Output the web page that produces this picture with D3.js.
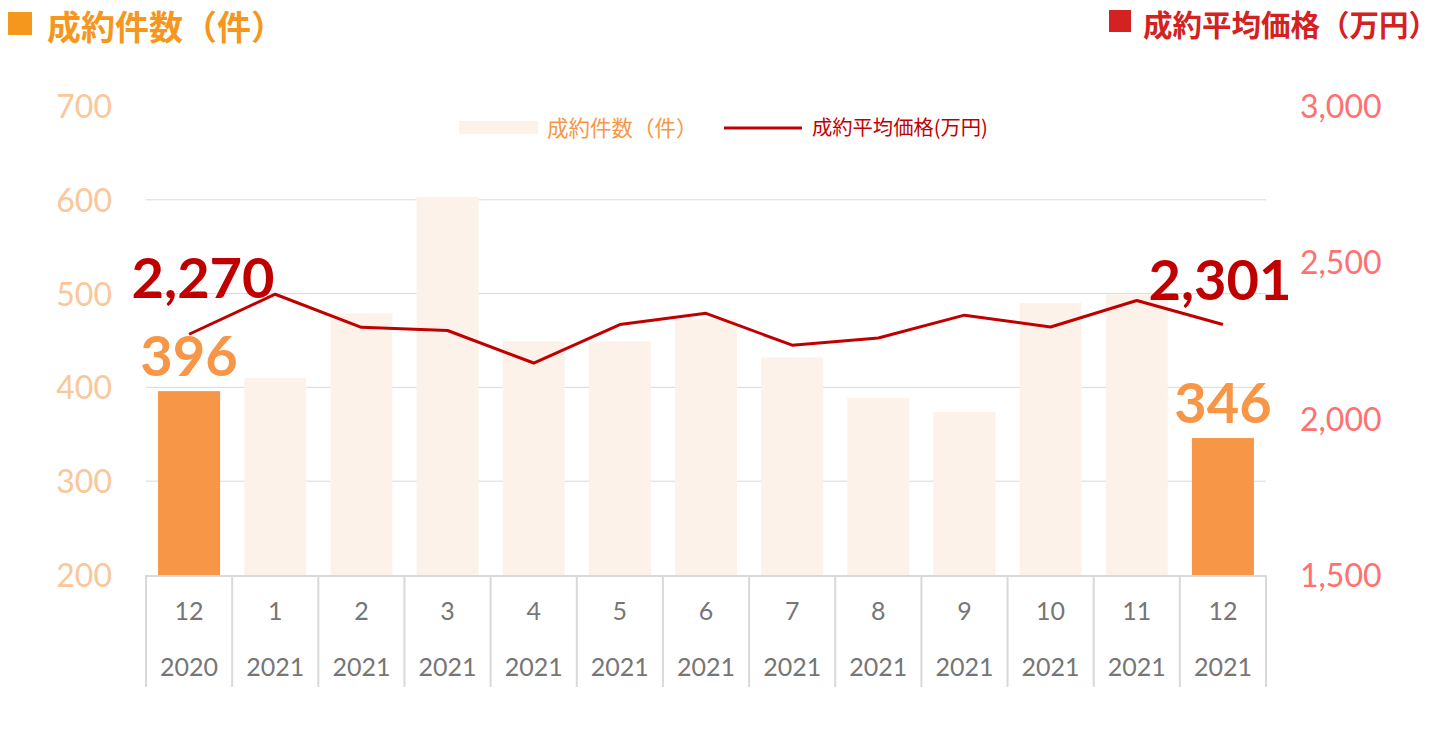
<!DOCTYPE html>
<html>
<head>
<meta charset="utf-8">
<script src="https://cdn.jsdelivr.net/npm/d3@7"></script>
<style>
  body { margin: 0; background: #fff; }
  svg { display: block; }
  .cjk { font-family: "Noto Sans CJK JP", "Noto Sans", sans-serif; }
  .num { font-family: Lato, "Open Sans", sans-serif; }
</style>
</head>
<body>
<div id="chart"></div>
<script>
// months and years on the two-row x axis
let months = ["12", "1", "2", "3", "4", "5", "6", "7", "8", "9", "10", "11", "12"];
let years = ["2020", "2021", "2021", "2021", "2021", "2021", "2021", "2021", "2021", "2021", "2021", "2021", "2021"];
// 成約件数（件）
let counts = [396, 410, 479, 603, 449, 449, 473, 432, 389, 374, 490, 499, 346];
// 成約平均価格（万円）
let prices = [2270, 2398, 2292, 2282, 2178, 2301, 2337, 2235, 2258, 2331, 2293, 2378, 2301];
let leftTicks = [200, 300, 400, 500, 600, 700];
let rightTicks = [1500, 2000, 2500, 3000];
let highlight = [0, 12];

let W = 1440, H = 738;
let m = { left: 146, right: 1266, top: 106, bottom: 575 };

let svg = d3.select("#chart").append("svg").attr("width", W).attr("height", H);

let idx = d3.range(months.length);
let x = d3.scaleBand().domain(idx).range([m.left, m.right]).paddingInner(0.28).paddingOuter(0.14);
let xStep = d3.scaleBand().domain(idx).range([m.left, m.right]);
let yL = d3.scaleLinear().domain([200, 700]).range([m.bottom, m.top]);
let yR = d3.scaleLinear().domain([1500, 3000]).range([m.bottom, m.top]);

// gridlines
svg.append("g")
  .selectAll("line")
  .data(leftTicks.filter(t => t > 200 && t < 700))
  .enter().append("line")
  .attr("x1", m.left).attr("x2", m.right)
  .attr("y1", d => yL(d)).attr("y2", d => yL(d))
  .attr("stroke", "#d9d9d9").attr("stroke-width", 1);

// bars
svg.append("g")
  .selectAll("rect")
  .data(counts)
  .enter().append("rect")
  .attr("x", (d, i) => x(i))
  .attr("width", x.bandwidth())
  .attr("y", d => yL(d))
  .attr("height", d => yL(200) - yL(d))
  .attr("fill", (d, i) => highlight.includes(i) ? "#f79646" : "#fdf2ea");

// line
let line = d3.line()
  .x((d, i) => xStep(i) + xStep.bandwidth() / 2)
  .y(d => yR(d));
svg.append("path")
  .datum(prices)
  .attr("d", line)
  .attr("fill", "none")
  .attr("stroke", "#c00000")
  .attr("stroke-width", 3)
  .attr("stroke-linejoin", "round");

// left axis
let axL = svg.append("g")
  .attr("transform", `translate(${m.left - 34},0)`)
  .call(d3.axisLeft(yL).tickValues(leftTicks).tickSize(0).tickPadding(0));
axL.select(".domain").remove();
axL.selectAll("text")
  .attr("class", "num")
  .attr("font-size", 32)
  .attr("fill", "#fac79a")
  .attr("dy", "0.36em");

// right axis
let axR = svg.append("g")
  .attr("transform", `translate(${m.right + 34},0)`)
  .call(d3.axisRight(yR).tickValues(rightTicks).tickSize(0).tickPadding(0).tickFormat(d3.format(",")));
axR.select(".domain").remove();
axR.selectAll("text")
  .attr("class", "num")
  .attr("font-size", 32)
  .attr("fill", "#ff7070")
  .attr("dy", "0.36em");

// x axis frame
let xa = svg.append("g");
xa.append("line")
  .attr("x1", m.left - 1).attr("x2", m.right + 1)
  .attr("y1", m.bottom + 1).attr("y2", m.bottom + 1)
  .attr("stroke", "#d9d9d9").attr("stroke-width", 2);
xa.selectAll("line.sep")
  .data(d3.range(months.length + 1))
  .enter().append("line")
  .attr("class", "sep")
  .attr("x1", i => m.left + i * xStep.step())
  .attr("x2", i => m.left + i * xStep.step())
  .attr("y1", m.bottom).attr("y2", 687)
  .attr("stroke", "#d9d9d9").attr("stroke-width", 2);
xa.selectAll("text.mon")
  .data(months)
  .enter().append("text")
  .attr("class", "num mon")
  .attr("x", (d, i) => xStep(i) + xStep.bandwidth() / 2)
  .attr("y", 620)
  .attr("text-anchor", "middle")
  .attr("font-size", 25)
  .attr("fill", "#767676")
  .text(d => d);
xa.selectAll("text.yr")
  .data(years)
  .enter().append("text")
  .attr("class", "num yr")
  .attr("x", (d, i) => xStep(i) + xStep.bandwidth() / 2)
  .attr("y", 676)
  .attr("text-anchor", "middle")
  .attr("font-size", 25)
  .attr("fill", "#767676")
  .text(d => d);

// data labels for first and last month
let fmt = d3.format(",");
let cx = i => xStep(i) + xStep.bandwidth() / 2;
let priceOffset = { 0: [14, -36], 12: [-3, -25] };
highlight.forEach(i => {
  svg.append("text")
    .attr("class", "num")
    .attr("x", cx(i) + priceOffset[i][0])
    .attr("y", yR(prices[i]) + priceOffset[i][1])
    .attr("text-anchor", "middle")
    .attr("font-size", 56)
    .attr("font-weight", 700)
    .attr("fill", "#c00000")
    .text(fmt(prices[i]));
  svg.append("text")
    .attr("class", "num")
    .attr("x", cx(i))
    .attr("y", yL(counts[i]) - 15)
    .attr("text-anchor", "middle")
    .attr("font-size", 56)
    .attr("font-weight", 700)
    .attr("fill", "#f79646")
    .text(counts[i]);
});

// legend
let lg = svg.append("g");
lg.append("rect").attr("x", 459).attr("y", 121).attr("width", 79).attr("height", 13).attr("fill", "#fdf2ea");
lg.append("text").attr("class", "cjk").attr("x", 547).attr("y", 136)
  .attr("font-size", 21.5).attr("fill", "#f79646").text("成約件数（件）");
lg.append("line").attr("x1", 724).attr("x2", 802).attr("y1", 128).attr("y2", 128)
  .attr("stroke", "#c00000").attr("stroke-width", 3);
lg.append("text").attr("class", "cjk").attr("x", 812).attr("y", 135)
  .attr("font-size", 20.3).attr("fill", "#c00000").text("成約平均価格(万円)");

// titles
svg.append("rect").attr("x", 8).attr("y", 12).attr("width", 24).attr("height", 23).attr("fill", "#f5961d");
svg.append("text").attr("class", "cjk").attr("x", 47).attr("y", 40)
  .attr("font-size", 34).attr("font-weight", 700).attr("fill", "#f5961d").text("成約件数（件）");
svg.append("rect").attr("x", 1109).attr("y", 10).attr("width", 22).attr("height", 22).attr("fill", "#d42222");
svg.append("text").attr("class", "cjk").attr("x", 1143).attr("y", 36)
  .attr("font-size", 29.5).attr("font-weight", 700).attr("fill", "#d42222").text("成約平均価格（万円）");
</script>
</body>
</html>
